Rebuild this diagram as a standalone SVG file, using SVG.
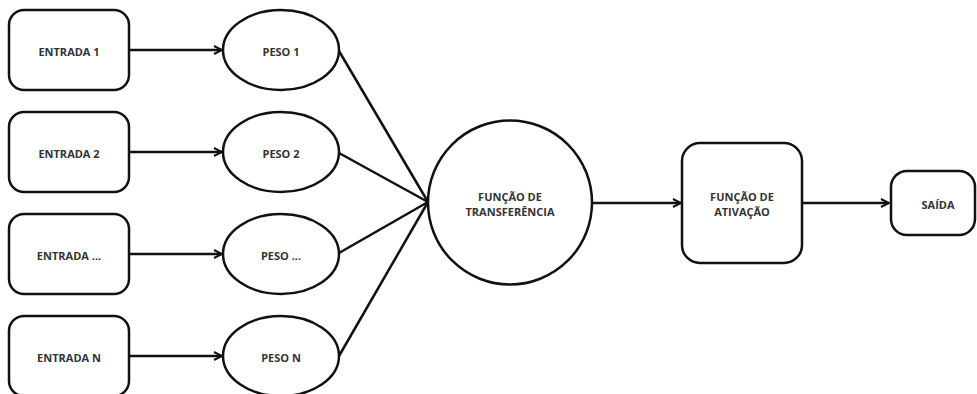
<svg xmlns="http://www.w3.org/2000/svg" width="977" height="394" viewBox="0 0 977 394">
<style>
.s{fill:#fff;stroke:#111;stroke-width:2.5}
.c{fill:none;stroke:#111;stroke-width:2.5}
text{font-family:"Open Sans","Noto Sans","Liberation Sans",sans-serif;font-weight:bold;font-size:11px;fill:#333;text-anchor:middle;dominant-baseline:central}
</style>
<defs>
<marker id="a" viewBox="0 0 10 10" refX="9" refY="5" markerWidth="10" markerHeight="10" markerUnits="userSpaceOnUse" orient="auto">
<path d="M1,1 L9,5 L1,9" fill="none" stroke="#111" stroke-width="2"/>
</marker>
</defs>
<rect width="977" height="394" fill="#fff"/>
<g id="connectors">
<line class="c" x1="129" y1="50" x2="222" y2="50" marker-end="url(#a)"/>
<line class="c" x1="129" y1="152" x2="222" y2="152" marker-end="url(#a)"/>
<line class="c" x1="129" y1="254" x2="222" y2="254" marker-end="url(#a)"/>
<line class="c" x1="129" y1="356" x2="222" y2="356" marker-end="url(#a)"/>
<line class="c" x1="339" y1="51" x2="428" y2="202"/>
<line class="c" x1="339" y1="153" x2="428" y2="202"/>
<line class="c" x1="339" y1="253" x2="428" y2="202"/>
<line class="c" x1="339" y1="356" x2="428" y2="202"/>
<line class="c" x1="592" y1="203" x2="681" y2="203" marker-end="url(#a)"/>
<line class="c" x1="802" y1="203" x2="889" y2="203" marker-end="url(#a)"/>
</g>
<g id="entrada1"><rect class="s" x="9" y="10" width="120" height="80" rx="15"/><text x="69" y="51">ENTRADA 1</text></g>
<g id="entrada2"><rect class="s" x="9" y="112" width="120" height="80" rx="15"/><text x="69" y="153">ENTRADA 2</text></g>
<g id="entrada3"><rect class="s" x="9" y="214" width="120" height="80" rx="15"/><text x="69" y="255">ENTRADA ...</text></g>
<g id="entradaN"><rect class="s" x="9" y="316" width="120" height="80" rx="15"/><text x="69" y="357">ENTRADA N</text></g>
<g id="peso1"><ellipse class="s" cx="281" cy="50" rx="58" ry="40"/><text x="281" y="51">PESO 1</text></g>
<g id="peso2"><ellipse class="s" cx="281" cy="152" rx="58" ry="40"/><text x="281" y="153">PESO 2</text></g>
<g id="peso3"><ellipse class="s" cx="281" cy="254" rx="58" ry="40"/><text x="281" y="255">PESO ...</text></g>
<g id="pesoN"><ellipse class="s" cx="281" cy="356" rx="58" ry="40"/><text x="281" y="357">PESO N</text></g>
<g id="transferencia"><circle class="s" cx="510" cy="202.5" r="82"/><text x="510" y="196">FUNÇÃO DE</text><text x="510" y="211">TRANSFERÊNCIA</text></g>
<g id="ativacao"><rect class="s" x="682" y="143" width="120" height="120" rx="18"/><text x="742" y="196">FUNÇÃO DE</text><text x="742" y="211">ATIVAÇÃO</text></g>
<g id="saida"><rect class="s" x="891" y="171" width="84" height="64" rx="16"/><text x="938" y="204">SAÍDA</text></g>
</svg>
